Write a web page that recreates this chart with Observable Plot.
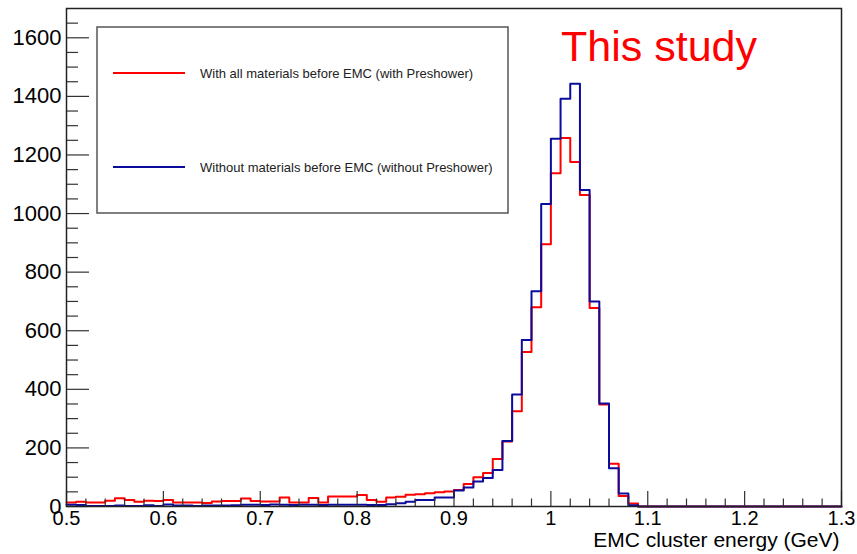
<!DOCTYPE html>
<html><head><meta charset="utf-8">
<script src="https://cdn.jsdelivr.net/npm/d3@7"></script>
<script src="https://cdn.jsdelivr.net/npm/@observablehq/plot@0.6"></script>
<style>
html,body{margin:0;padding:0;background:#fff;}
#wrap{position:relative;width:857px;height:554px;font-family:"Liberation Sans",Arial,sans-serif;}
#overlay{position:absolute;left:0;top:0;pointer-events:none;}
</style>
</head><body>
<div id="wrap"></div>
<script>
// Bin lower edges (0.01 GeV bins from 0.5 to 1.3)
const binLow = d3.range(80).map(i => +(0.5 + i * 0.01).toFixed(2));
// Counts: with all materials before EMC (with Preshower)
const withPreshower = [
  14, 16, 14, 14, 20, 28, 22, 16, 20, 19,
  22, 14, 14, 14, 12, 17, 19, 19, 27, 19,
  17, 17, 31, 14, 14, 29, 14, 34, 34, 34,
  39, 22, 16, 31, 33, 40, 42, 45, 49, 51,
  56, 77, 100, 114, 162, 222, 325, 527, 680, 895,
  1138, 1258, 1176, 1063, 678, 348, 146, 36, 10, 0,
  0, 0, 0, 0, 0, 0, 0, 0, 0, 0,
  0, 0, 0, 0, 0, 0, 0, 0, 0, 0
];
// Counts: without materials before EMC (without Preshower)
const withoutPreshower = [
  6, 5, 2, 2, 2, 3, 2, 2, 4, 2,
  7, 3, 3, 2, 3, 3, 3, 4, 6, 6,
  5, 7, 6, 5, 6, 6, 5, 6, 6, 6,
  6, 5, 5, 8, 11, 16, 22, 22, 31, 31,
  55, 65, 85, 97, 125, 224, 382, 568, 735, 1033,
  1255, 1392, 1443, 1080, 700, 352, 131, 44, 4, 0,
  0, 0, 0, 0, 0, 0, 0, 0, 0, 0,
  0, 0, 0, 0, 0, 0, 0, 0, 0, 0
];
const xMajor = [0.5, 0.6, 0.7, 0.8, 0.9, 1, 1.1, 1.2, 1.3];
const xMinor = [0.52,0.54,0.56,0.58,0.62,0.64,0.66,0.68,0.72,0.74,0.76,0.78,0.82,0.84,0.86,0.88,0.92,0.94,0.96,0.98,1.02,1.04,1.06,1.08,1.12,1.14,1.16,1.18,1.22,1.24,1.26,1.28];
const yMajor = [0, 200, 400, 600, 800, 1000, 1200, 1400, 1600];
const yMinor = [50,100,150,250,300,350,450,500,550,650,700,750,850,900,950,1050,1100,1150,1250,1300,1350,1450,1500,1550,1650];
const xLabel = "EMC cluster energy (GeV)";
const seriesNames = ["With all materials before EMC (with Preshower)", "Without materials before EMC (without Preshower)"];
const seriesColors = ["#ff0000", "#0c0c9c"];
const annotation = "This study";

function steps(vals) {
  const pts = binLow.map((x, i) => ({x, y: vals[i]}));
  pts.push({x: 1.3, y: vals[vals.length - 1]});
  return pts;
}

const W = 857, H = 554, mL = 66, mR = 16, mT = 8, mB = 48;
const fw = W - mL - mR, fh = H - mT - mB;

const chart = Plot.plot({
  width: W, height: H,
  marginLeft: mL, marginRight: mR, marginTop: mT, marginBottom: mB,
  x: {domain: [0.5, 1.3], label: null},
  y: {domain: [0, 1700], label: null},
  style: {fontFamily: "Liberation Sans, Arial, sans-serif", background: "white", color: "#000", overflow: "visible"},
  marks: [
    Plot.line(steps(withPreshower), {x: "x", y: "y", curve: "step-after", stroke: seriesColors[0], strokeWidth: 2}),
    Plot.line(steps(withoutPreshower), {x: "x", y: "y", curve: "step-after", stroke: seriesColors[1], strokeWidth: 2}),
    Plot.ruleY(yMajor, {insetRight: fw - 23, stroke: "#333", strokeWidth: 1.2}),
    Plot.ruleY(yMinor, {insetRight: fw - 12, stroke: "#333", strokeWidth: 1.2}),
    Plot.ruleX(xMajor, {insetTop: fh - 15, stroke: "#333", strokeWidth: 1.2}),
    Plot.ruleX(xMinor, {insetTop: fh - 7.5, stroke: "#333", strokeWidth: 1.2}),
    Plot.frame({stroke: "#222", strokeWidth: 1.5}),
    Plot.axisY(yMajor, {tickSize: 0, tickPadding: 5, fontSize: 22, tickFormat: d => String(d), label: null}),
    Plot.axisX(xMajor, {tickSize: 0, tickPadding: 4, fontSize: 20, tickFormat: d => String(d), label: null}),
    Plot.text([xLabel], {frameAnchor: "bottom-right", dx: -2, dy: 40, textAnchor: "end", fontSize: 21, fill: "#000"})
  ]
});
const wrap = document.getElementById("wrap");
wrap.appendChild(chart);

const ns = "http://www.w3.org/2000/svg";
const ov = document.createElementNS(ns, "svg");
ov.setAttribute("id", "overlay");
ov.setAttribute("width", W); ov.setAttribute("height", H);
function el(tag, attrs, text) {
  const e = document.createElementNS(ns, tag);
  for (const k in attrs) e.setAttribute(k, attrs[k]);
  if (text) e.textContent = text;
  ov.appendChild(e);
  return e;
}
el("rect", {x: 97, y: 27, width: 411, height: 186, fill: "white", stroke: "#555", "stroke-width": 1.5});
[73, 167].forEach((yy, i) => {
  el("line", {x1: 113, x2: 185, y1: yy, y2: yy, stroke: seriesColors[i], "stroke-width": 2});
  el("text", {x: 200, y: yy + 4.5, "font-size": 13, fill: "#222", "font-family": "Liberation Sans, Arial, sans-serif"}, seriesNames[i]);
});
el("text", {x: 561, y: 61, "font-size": 43, fill: "#ff0000", "font-family": "Liberation Sans, Arial, sans-serif"}, annotation);
wrap.appendChild(ov);
</script>
</body></html>
